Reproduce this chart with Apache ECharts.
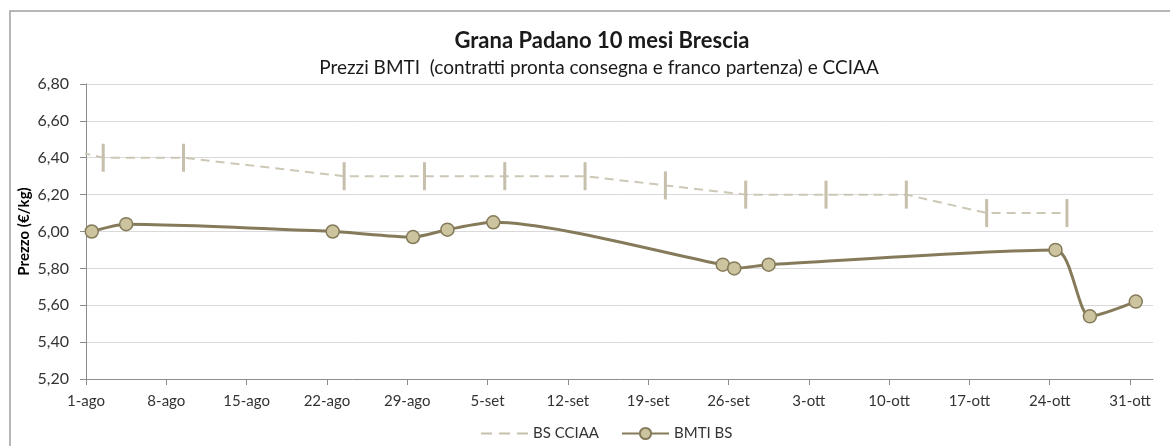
<!DOCTYPE html>
<html>
<head>
<meta charset="utf-8">
<title>Grana Padano 10 mesi Brescia</title>
<script src="https://cdn.jsdelivr.net/npm/echarts@6/dist/echarts.min.js"></script>
<style>
  html, body { margin: 0; padding: 0; background: #ffffff; }
  #chart { width: 1170px; height: 446px; }
</style>
</head>
<body>
<div id="chart"></div>
<script>
// date di riferimento (mese-giorno), asse da 1-ago
var startDate = '08-01';
var mesi = ['gen', 'feb', 'mar', 'apr', 'mag', 'giu', 'lug', 'ago', 'set', 'ott', 'nov', 'dic'];

// BS CCIAA (listino settimanale)
var cciaaDates = ['07-26', '08-02', '08-09', '08-23', '08-30', '09-06', '09-13', '09-20', '09-27', '10-04', '10-11', '10-18', '10-25'];
var cciaaValues = [6.50, 6.40, 6.40, 6.30, 6.30, 6.30, 6.30, 6.25, 6.20, 6.20, 6.20, 6.10, 6.10];

// BMTI BS
var bmtiDates = ['08-01', '08-04', '08-22', '08-29', '09-01', '09-05', '09-25', '09-26', '09-29', '10-24', '10-27', '10-31'];
var bmtiValues = [6.00, 6.04, 6.00, 5.97, 6.01, 6.05, 5.82, 5.80, 5.82, 5.90, 5.54, 5.62];

var dayMs = 24 * 3600 * 1000;

function toDate(md) {
  var p = md.split('-');
  return Date.UTC(2001, Number(p[0]) - 1, Number(p[1]));
}

// giorni da 1-ago; il punto sta a metà della giornata (come l'asse data di Excel)
function toDay(md) {
  return (toDate(md) - toDate(startDate)) / dayMs + 0.5;
}

function dayLabel(v) {
  var d = new Date(toDate(startDate) + Math.round(v) * dayMs);
  return d.getUTCDate() + '-' + mesi[d.getUTCMonth()];
}

var cciaaData = cciaaDates.map(function (d, i) { return [toDay(d), cciaaValues[i]]; });
var bmtiData = bmtiDates.map(function (d, i) { return [toDay(d), bmtiValues[i]]; });

var chart = echarts.init(document.getElementById('chart'));

var fontFamily = 'Lato, "Open Sans", sans-serif';

var option = {
  backgroundColor: '#ffffff',
  animation: false,
  textStyle: { fontFamily: fontFamily },
  graphic: [
    {
      type: 'rect',
      shape: { x: 10, y: 11, width: 1300, height: 600 },
      style: { fill: 'none', stroke: '#a0a0a0', lineWidth: 1.5 },
      silent: true
    }
  ],
  title: [
    {
      text: 'Grana Padano 10 mesi Brescia',
      left: 597,
      top: 25,
      textAlign: 'center',
      textStyle: { fontFamily: fontFamily, fontSize: 22, fontWeight: 'bold', color: '#1a1a1a' }
    },
    {
      text: 'Prezzi BMTI  (contratti pronta consegna e franco partenza) e CCIAA',
      left: 594,
      top: 53,
      textAlign: 'center',
      textStyle: { fontFamily: fontFamily, fontSize: 19, fontWeight: 'normal', color: '#1a1a1a' }
    }
  ],
  grid: {
    left: 86,
    right: 17,
    top: 84,
    bottom: 67
  },
  legend: {
    left: 476,
    top: 421,
    itemWidth: 47,
    itemHeight: 14,
    itemGap: 22,
    textStyle: { fontFamily: fontFamily, fontSize: 15, color: '#333333' },
    data: [
      { name: 'BS CCIAA', icon: 'path://M0,0h11v2h-11z M18,0h11v2h-11z M36,0h11v2h-11z' },
      { name: 'BMTI BS' }
    ]
  },
  xAxis: {
    type: 'value',
    min: 0,
    max: 93,
    interval: 7,
    axisLine: { show: true, lineStyle: { color: '#8c8c8c', width: 1 } },
    axisTick: { show: true, length: 6, lineStyle: { color: '#8c8c8c' } },
    splitLine: { show: false },
    axisLabel: {
      margin: 15,
      fontSize: 15,
      color: '#333333',
      showMaxLabel: false,
      formatter: function (v) { return dayLabel(v); }
    }
  },
  yAxis: {
    type: 'value',
    min: 5.2,
    max: 6.8,
    interval: 0.2,
    name: 'Prezzo (€/kg)',
    nameLocation: 'middle',
    nameGap: 54,
    nameMoveOverlap: false,
    nameTextStyle: { fontFamily: fontFamily, fontSize: 15, fontWeight: 'bold', color: '#000000' },
    axisLine: { show: true, lineStyle: { color: '#8c8c8c', width: 1 } },
    axisTick: { show: true, length: 6, lineStyle: { color: '#8c8c8c' } },
    splitLine: { show: true, lineStyle: { color: '#d9d9d9', width: 1 } },
    axisLabel: {
      margin: 17,
      fontSize: 16,
      color: '#333333',
      formatter: function (v) { return v.toFixed(2).replace('.', ','); }
    }
  },
  series: [
    {
      name: 'BS CCIAA',
      type: 'line',
      data: cciaaData,
      clip: true,
      smooth: false,
      symbol: 'rect',
      symbolSize: [3, 28],
      itemStyle: { color: '#c6bfab' },
      lineStyle: { color: '#cdc7b6', width: 2, type: [9, 6] },
      z: 2
    },
    {
      name: 'BMTI BS',
      type: 'line',
      data: bmtiData,
      clip: true,
      smooth: 0.25,
      symbol: 'circle',
      symbolSize: 13,
      itemStyle: { color: '#ccc49f', borderColor: '#857b5b', borderWidth: 1.5 },
      lineStyle: { color: '#857b5b', width: 3 },
      z: 3
    }
  ]
};

chart.setOption(option);
</script>
</body>
</html>
